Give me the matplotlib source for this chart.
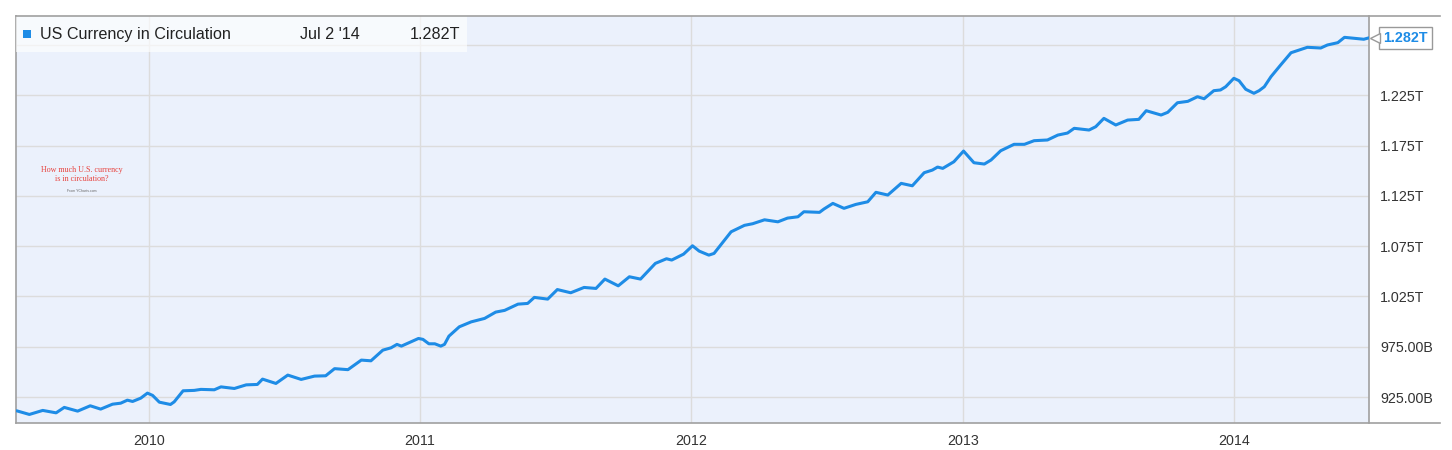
import numpy as np
import pandas as pd
import matplotlib
matplotlib.use("Agg")
import matplotlib.pyplot as plt
from matplotlib.ticker import FixedLocator, FuncFormatter
from matplotlib.transforms import ScaledTranslation

plt.rcParams.update({
    "font.family": ["Liberation Sans", "DejaVu Sans"],
    "font.size": 10,
})

# -----------------------------------------------------------------------------
# Data (US currency in circulation, billions USD)
# -----------------------------------------------------------------------------
dates = [
    "2009-07-07", "2009-07-24", "2009-08-11", "2009-08-29", "2009-09-09", "2009-09-27",
    "2009-10-14", "2009-10-28", "2009-11-13", "2009-11-24", "2009-12-03", "2009-12-10",
    "2009-12-21", "2009-12-30", "2010-01-06", "2010-01-15", "2010-01-30", "2010-02-04",
    "2010-02-16", "2010-03-03", "2010-03-12", "2010-03-30", "2010-04-08", "2010-04-26",
    "2010-05-12", "2010-05-27", "2010-06-03", "2010-06-21", "2010-07-07", "2010-07-25",
    "2010-08-12", "2010-08-27", "2010-09-08", "2010-09-26", "2010-10-14", "2010-10-27",
    "2010-11-12", "2010-11-23", "2010-12-01", "2010-12-07", "2010-12-20", "2010-12-30",
    "2011-01-05", "2011-01-13", "2011-01-21", "2011-01-29", "2011-02-03", "2011-02-09",
    "2011-02-23", "2011-03-11", "2011-03-29", "2011-04-13", "2011-04-25", "2011-05-13",
    "2011-05-26", "2011-06-04", "2011-06-22", "2011-07-05", "2011-07-23", "2011-08-10",
    "2011-08-26", "2011-09-07", "2011-09-25", "2011-10-10", "2011-10-25", "2011-11-14",
    "2011-11-29", "2011-12-06", "2011-12-22", "2012-01-03", "2012-01-12", "2012-01-25",
    "2012-02-01", "2012-02-24", "2012-03-13", "2012-03-24", "2012-04-09", "2012-04-27",
    "2012-05-10", "2012-05-24", "2012-06-01", "2012-06-22", "2012-06-28", "2012-07-10",
    "2012-07-25", "2012-08-10", "2012-08-26", "2012-09-06", "2012-09-22", "2012-10-10",
    "2012-10-25", "2012-11-10", "2012-11-21", "2012-11-28", "2012-12-05", "2012-12-20",
    "2013-01-02", "2013-01-16", "2013-01-30", "2013-02-08", "2013-02-21", "2013-03-11",
    "2013-03-25", "2013-04-07", "2013-04-25", "2013-05-09", "2013-05-22", "2013-05-31",
    "2013-06-20", "2013-06-29", "2013-07-10", "2013-07-26", "2013-08-11", "2013-08-26",
    "2013-09-05", "2013-09-25", "2013-10-04", "2013-10-17", "2013-10-31", "2013-11-13",
    "2013-11-22", "2013-12-05", "2013-12-14", "2013-12-21", "2014-01-01", "2014-01-08",
    "2014-01-17", "2014-01-28", "2014-02-04", "2014-02-11", "2014-02-20", "2014-03-05",
    "2014-03-19", "2014-03-30", "2014-04-10", "2014-04-28", "2014-05-07", "2014-05-21",
    "2014-05-30", "2014-06-12", "2014-06-25", "2014-07-02",
]
values = [
    911.4, 907.8, 911.8, 909.4, 914.8, 911.1,
    916.4, 913.1, 918.0, 919.0, 922.0, 920.7,
    924.0, 929.0, 926.7, 920.0, 917.7, 920.3,
    931.3, 931.7, 932.7, 932.3, 935.2, 933.6,
    937.2, 937.6, 942.9, 938.6, 946.9, 942.6,
    945.9, 946.2, 953.3, 952.3, 961.8, 961.1,
    971.7, 974.0, 977.4, 975.7, 980.0, 983.3,
    982.4, 978.0, 978.0, 975.7, 977.4, 985.6,
    994.9, 999.8, 1003.2, 1009.5, 1011.2, 1017.4,
    1018.1, 1024.1, 1022.4, 1031.9, 1028.7, 1034.0,
    1033.0, 1042.3, 1035.6, 1044.6, 1042.3, 1057.9,
    1062.5, 1061.2, 1067.1, 1075.4, 1070.1, 1066.1,
    1067.8, 1089.3, 1095.7, 1097.3, 1101.2, 1099.2,
    1102.9, 1104.2, 1109.2, 1108.6, 1111.9, 1117.5,
    1112.6, 1116.5, 1119.1, 1128.5, 1125.8, 1137.4,
    1135.0, 1148.0, 1150.6, 1153.6, 1152.3, 1158.9,
    1169.5, 1157.9, 1156.6, 1160.6, 1169.8, 1176.2,
    1176.2, 1179.8, 1180.5, 1185.4, 1187.4, 1192.1,
    1190.4, 1193.7, 1202.0, 1195.4, 1200.3, 1201.0,
    1209.6, 1205.3, 1208.0, 1217.5, 1218.9, 1223.5,
    1221.5, 1229.5, 1230.2, 1233.4, 1241.8, 1239.4,
    1230.9, 1226.9, 1229.5, 1233.4, 1243.4, 1255.0,
    1267.2, 1269.9, 1272.6, 1271.9, 1274.9, 1277.2,
    1282.5, 1281.5, 1280.6, 1282.0,
]
y_ticks = [925, 975, 1025, 1075, 1125, 1175, 1225, 1275]
years = ["2010", "2011", "2012", "2013", "2014"]
series_name = "US Currency in Circulation"
last_label = "Jul 2 '14"

x = pd.to_datetime(dates)
y = np.array(values)

# -----------------------------------------------------------------------------
# Plot
# -----------------------------------------------------------------------------
line_col = "#1E8CE6"
grid_col = "#DCDCDC"
frame_col = "#A0A0A0"

fig = plt.figure(figsize=(14.52, 4.5), dpi=100)
ax = fig.add_axes([16 / 1452, 27 / 450, (1369 - 16) / 1452, (423 - 16) / 450])
ax.set_facecolor("#EBF1FC")

ax.plot(x, y, color=line_col, linewidth=2.2, solid_joinstyle="round",
        solid_capstyle="round", zorder=3)

ax.set_xlim(pd.Timestamp("2009-07-06"), pd.Timestamp("2014-07-02"))
ax.set_ylim(899.3, 1303.7)

# y axis on the right
ax.yaxis.tick_right()
ax.yaxis.set_major_locator(FixedLocator(y_ticks))


def fmt_val(v, pos=None):
    if v >= 1275:
        return ""  # hidden under the last-value flag
    if v >= 1000:
        return f"{v / 1000:.3f}T"
    return f"{v:.2f}B"


ax.yaxis.set_major_formatter(FuncFormatter(fmt_val))
ax.tick_params(axis="y", length=0, pad=8, labelsize=10.3, labelcolor="#333333")

ax.set_xticks([pd.Timestamp(f"{yr}-01-01") for yr in years])
ax.set_xticklabels(years)
ax.tick_params(axis="x", length=0, pad=8, labelsize=10.3, labelcolor="#333333")

ax.grid(True, color=grid_col, linewidth=1.0, zorder=0)
ax.set_axisbelow(True)

for side in ["left", "right"]:
    ax.spines[side].set_color(frame_col)
    ax.spines[side].set_linewidth(1.2)
for side in ["top", "bottom"]:
    ax.spines[side].set_visible(False)

# top / bottom frame lines run past the right axis
for yy in [434 / 450, 27 / 450]:
    fig.add_artist(plt.Line2D([16 / 1452, 1440 / 1452], [yy, yy], transform=fig.transFigure,
                              color=frame_col, linewidth=1.2))

# legend strip in the top left
ax.add_patch(plt.Rectangle((0, 0.912), 451 / 1353, 0.088, transform=ax.transAxes,
                           facecolor="white", alpha=0.65, edgecolor="none", zorder=4))
ax.add_patch(plt.Rectangle((7 / 1353, 0.945), 8 / 1353, 0.021, transform=ax.transAxes,
                           facecolor=line_col, edgecolor="none", zorder=5))
ax.text(24 / 1353, 0.955, series_name, transform=ax.transAxes, fontsize=11.6,
        color="#222222", va="center", ha="left", zorder=5)
ax.text(284 / 1353, 0.955, last_label, transform=ax.transAxes, fontsize=11.6,
        color="#222222", va="center", ha="left", zorder=5)
ax.text(394 / 1353, 0.955, f"{y[-1] / 1000:.3f}T", transform=ax.transAxes, fontsize=11.6,
        color="#222222", va="center", ha="left", zorder=5)

# last value flag on the right axis
ax.annotate(f"{y[-1] / 1000:.3f}T", xy=(x[-1], y[-1]), xycoords="data",
            xytext=(10.5, 0), textcoords="offset points", fontsize=10.3, fontweight="bold",
            color=line_col, va="center", ha="left", annotation_clip=False,
            bbox=dict(boxstyle="square,pad=0.3", facecolor="white", edgecolor="#999999",
                      linewidth=1.0))
ax.plot([x[-1]], [y[-1]], marker="<", markersize=7, color="white",
        markeredgecolor="#999999", markeredgewidth=1.0, clip_on=False, zorder=6,
        transform=ax.transData + ScaledTranslation(4 / 72, 0, fig.dpi_scale_trans))

# small embedded caption on the left
ax.text(66 / 1353, 0.61, "How much U.S. currency\nis in circulation?", transform=ax.transAxes,
        fontsize=5.8, color="#E8413C", ha="center", va="center", family="Liberation Serif",
        linespacing=1.1)
ax.text(66 / 1353, 0.57, "From YCharts.com", transform=ax.transAxes, fontsize=2.5,
        color="#666666", ha="center", va="center")

fig.savefig("out.png", dpi=100)
plt.close(fig)
